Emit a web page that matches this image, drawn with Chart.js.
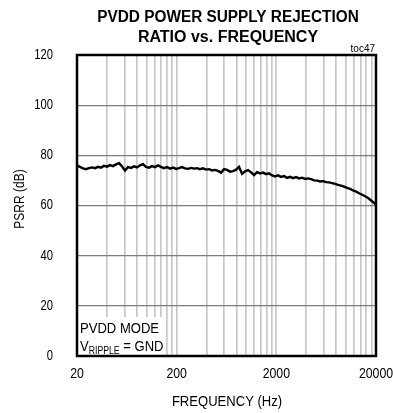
<!DOCTYPE html>
<html>
<head>
<meta charset="utf-8">
<script src="https://cdn.jsdelivr.net/npm/chart.js@4.4.1/dist/chart.umd.min.js"></script>
<style>
  html, body { margin: 0; padding: 0; background: #fff; }
  #wrap { width: 393px; height: 413px; }
</style>
</head>
<body>
<div id="wrap"><canvas id="psrrChart" width="393" height="413"></canvas></div>
<script>

// frequency points (Hz) and PSRR readings (dB)
const freqs = [20, 21.4, 23.0, 24.6, 26.4, 28.3, 30.3, 32.5, 34.8, 37.3,
    40.0, 42.9, 45.9, 49.2, 52.8, 56.6, 60.6, 65.0, 69.6, 74.6,
    80.0, 85.7, 91.9, 98.5, 105.6, 113, 121, 130, 139, 149,
    160, 172, 184, 197, 211, 226, 243, 260, 279, 299,
    320, 343, 368, 394, 423, 453, 485, 520, 558, 598,
    641, 687, 736, 789, 845, 906, 971, 1041, 1116, 1196,
    1282, 1374, 1472, 1578, 1691, 1813, 1943, 2082, 2232, 2392,
    2564, 2748, 2945, 3157, 3383, 3626, 3887, 4166, 4465, 4785,
    5129, 5497, 5892, 6315, 6768, 7254, 7775, 8333, 8931, 9573,
    10260, 10997, 11786, 12633, 13540, 14512, 15554, 16670, 17867, 19150, 20000];
const psrr = [76.0, 75.4, 74.8, 74.5, 74.9, 75.2, 74.9, 75.4, 75.1, 75.8,
    75.5, 76.1, 75.7, 76.4, 76.9, 75.6, 73.9, 75.3, 75.0, 75.6,
    75.2, 76.0, 76.5, 75.4, 75.1, 75.7, 75.3, 76.0, 75.4, 74.9,
    75.3, 74.7, 75.1, 74.6, 74.9, 75.3, 74.8, 74.6, 75.0, 74.7,
    74.9, 74.5, 74.8, 74.3, 74.5, 74.0, 74.2, 73.8, 73.1, 74.5,
    74.2, 73.5, 73.7, 74.3, 75.4, 72.6, 73.6, 74.1, 73.2, 72.1,
    73.3, 72.8, 73.1, 72.5, 72.8, 72.0, 71.6, 72.0, 71.4, 71.7,
    71.0, 71.4, 70.9, 71.3, 70.8, 71.1, 70.6, 70.8, 70.5, 70.0,
    69.9, 69.6, 69.7, 69.3, 69.2, 68.9, 68.6, 68.2, 67.9, 67.5,
    67.0, 66.6, 66.0, 65.5, 64.9, 64.3, 63.7, 63.0, 62.0, 61.0, 60.3];

// axis labels
const xTickLabels = [20, 200, 2000, 20000];
const yTicks = [0, 20, 40, 60, 80, 100, 120];

// grid at 20,40,...,200 in each decade
const gridFreqs = [];
[20, 200, 2000].forEach(d => {
    for (let k = 1; k <= 10; k++) {
        if (k > 1 || d === 20) gridFreqs.push(d * k);
    }
});

const FONT = '"Liberation Sans", Arial, sans-serif';

// the original uses a narrow face, so squeeze the text horizontally
function drawText(c, text, x, y, font, align, sx){
    c.save();
    c.translate(x, y);
    c.scale(sx, 1);
    c.font = font;
    c.textAlign = align;
    c.fillText(text, 0, 0);
    c.restore();
}

const framePlugin = {
    id: "frame",
    afterDraw(chart){
        const c = chart.ctx;
        const a = chart.chartArea;
        const xs = chart.scales.x;
        const ys = chart.scales.y;
        c.save();
        c.fillStyle = "#000";
        c.textBaseline = "middle";

        // tick labels
        xTickLabels.forEach(v => {
            drawText(c, String(v), xs.getPixelForValue(v), 374, "15px " + FONT, "center", 0.82);
        });
        yTicks.forEach(v => {
            drawText(c, String(v), 53, ys.getPixelForValue(v), "14px " + FONT, "right", 0.8);
        });

        c.textBaseline = "alphabetic";

        // note box in the lower left corner
        c.fillStyle = "#fff";
        c.fillRect(a.left, 317, 88, a.bottom - 317);
        c.fillStyle = "#000";
        drawText(c, "PVDD MODE", 80, 333, "15px " + FONT, "left", 0.87);
        c.font = "15px " + FONT;
        let w = c.measureText("V").width * 0.87;
        drawText(c, "V", 80, 351, "15px " + FONT, "left", 0.87);
        c.font = "10px " + FONT;
        drawText(c, "RIPPLE", 80 + w, 354, "10px " + FONT, "left", 0.87);
        w += c.measureText("RIPPLE").width * 0.87;
        drawText(c, " = GND", 80 + w, 351, "15px " + FONT, "left", 0.87);

        // frame
        c.strokeStyle = "#000";
        c.lineWidth = 2.5;
        c.strokeRect(a.left, a.top, a.right - a.left, a.bottom - a.top);

        // titles
        drawText(c, "PVDD POWER SUPPLY REJECTION", 228, 22, "bold 16px " + FONT, "center", 0.96);
        drawText(c, "RATIO vs. FREQUENCY", 228, 42, "bold 16px " + FONT, "center", 1.0);
        drawText(c, "toc47", 375, 52, "10px " + FONT, "right", 1.0);
        drawText(c, "FREQUENCY (Hz)", 227, 406, "15px " + FONT, "center", 0.87);

        c.translate(24, 199);
        c.rotate(-Math.PI / 2);
        drawText(c, "PSRR (dB)", 0, 0, "15px " + FONT, "center", 0.8);

        c.restore();
    }
};

const ctx = document.getElementById("psrrChart");

new Chart(ctx, {
    type: "line",
    data: {
        datasets: [{
            data: freqs.map((f, i) => ({ x: f, y: psrr[i] })),
            borderColor: "#000",
            borderWidth: 2.4,
            pointRadius: 0,
            tension: 0,
            fill: false
        }]
    },
    options: {
        responsive: false,
        animation: false,
        layout: { padding: { top: 55, right: 17, left: 0, bottom: 0 } },
        plugins: {
            legend: { display: false },
            tooltip: { enabled: false },
            title: { display: false }
        },
        scales: {
            x: {
                type: "logarithmic",
                min: 20,
                max: 20000,
                afterBuildTicks: s => { s.ticks = gridFreqs.map(v => ({ value: v })); },
                afterFit: s => { s.height = 57; },
                grid: { color: "#c8c8c8", lineWidth: 1.7, drawTicks: false },
                border: { display: false },
                ticks: { display: false }
            },
            y: {
                min: 0,
                max: 120,
                afterBuildTicks: s => { s.ticks = yTicks.map(v => ({ value: v })); },
                afterFit: s => { s.width = 77; },
                grid: { color: "#7d7d7d", lineWidth: 1.3, drawTicks: false },
                border: { display: false },
                ticks: { display: false }
            }
        }
    },
    plugins: [framePlugin]
});

</script>
</body>
</html>
